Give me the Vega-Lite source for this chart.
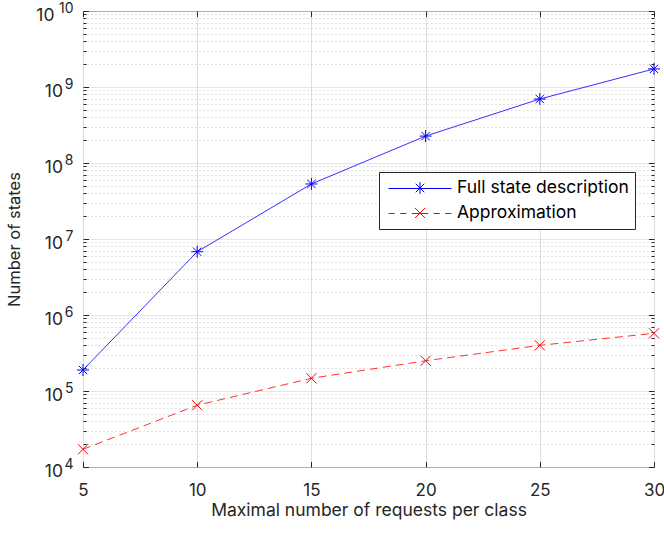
{
  "$schema": "https://vega.github.io/schema/vega-lite/v6.json",
  "width": 571,
  "height": 456,
  "autosize": {"type": "none"},
  "padding": {"left": 83, "top": 11, "right": 10, "bottom": 66},
  "background": "white",
  "config": {
    "view": {"stroke": "#262626", "strokeWidth": 1},
    "font": "Inter",
    "axis": {
      "labelFont": "Inter",
      "titleFont": "Inter",
      "labelColor": "#262626",
      "titleColor": "#262626",
      "titleFontWeight": "normal",
      "labelFlush": false,
      "labelOverlap": false,
      "labelBound": false,
      "domain": false,
      "tickColor": "#262626",
      "tickWidth": 1
    }
  },
  "data": {
    "values": [
      {"n": 5, "states": 189000, "series": "Full state description"},
      {"n": 10, "states": 6800000, "series": "Full state description"},
      {"n": 15, "states": 53000000, "series": "Full state description"},
      {"n": 20, "states": 226000000, "series": "Full state description"},
      {"n": 25, "states": 695000000, "series": "Full state description"},
      {"n": 30, "states": 1730000000, "series": "Full state description"},
      {"n": 5, "states": 17100, "series": "Approximation"},
      {"n": 10, "states": 65000, "series": "Approximation"},
      {"n": 15, "states": 147000, "series": "Approximation"},
      {"n": 20, "states": 250000, "series": "Approximation"},
      {"n": 25, "states": 399000, "series": "Approximation"},
      {"n": 30, "states": 574000, "series": "Approximation"}
    ]
  },
  "layer": [
    {
      "transform": [{"filter": "datum.series === 'Full state description'"}],
      "mark": {"type": "line", "strokeWidth": 1, "opacity": 0.8},
      "encoding": {
        "x": {
          "field": "n", "type": "quantitative",
          "scale": {"domain": [5, 30], "nice": false, "zero": false},
          "axis": {
            "values": [5, 10, 15, 20, 25, 30],
            "grid": true, "gridColor": "#dedede", "gridWidth": 1,
            "ticks": false,
            "labelFontSize": 17, "labelPadding": 15,
            "title": "Maximal number of requests per class",
            "titleFontSize": 17.5, "titlePadding": 3
          }
        },
        "y": {
          "field": "states", "type": "quantitative",
          "scale": {"type": "log", "domain": [10000, 10000000000], "nice": false},
          "axis": {
            "values": [10000,20000,30000,40000,50000,60000,70000,80000,90000,
                       100000,200000,300000,400000,500000,600000,700000,800000,900000,
                       1000000,2000000,3000000,4000000,5000000,6000000,7000000,8000000,9000000,
                       1e7,2e7,3e7,4e7,5e7,6e7,7e7,8e7,9e7,
                       1e8,2e8,3e8,4e8,5e8,6e8,7e8,8e8,9e8,
                       1e9,2e9,3e9,4e9,5e9,6e9,7e9,8e9,9e9,1e10],
            "grid": true,
            "gridColor": {"condition": {"test": "abs(log(datum.value)/LN10 - round(log(datum.value)/LN10)) < 0.001", "value": "#dcdcdc"}, "value": "#c0c0c0"},
            "gridDash": {"condition": {"test": "abs(log(datum.value)/LN10 - round(log(datum.value)/LN10)) < 0.001", "value": [1, 0]}, "value": [1, 3]},
            "ticks": false,
            "labelExpr": "abs(log(datum.value)/LN10 - round(log(datum.value)/LN10)) < 0.001 ? '10' : ''",
            "labelFontSize": 17.5,
            "labelBaseline": "middle",
            "labelOffset": 4,
            "labelPadding": {"condition": {"test": "datum.value > 5e9", "value": 29}, "value": 20.5},
            "title": "Number of states",
            "titleFontSize": 16.5,
            "titlePadding": 13
          }
        },
        "color": {
          "field": "series", "type": "nominal",
          "scale": {"domain": ["Full state description", "Approximation"], "range": ["#0000ff", "#ff0000"]},
          "legend": {
            "orient": "none",
            "legendX": 296,
            "legendY": 161,
            "title": null,
            "direction": "vertical",
            "fillColor": "white",
            "strokeColor": "#262626",
            "padding": 6,
            "labelFont": "Inter",
            "labelFontSize": 17.5,
            "labelColor": "#000000",
            "labelOffset": 5,
            "labelLimit": 400,
            "symbolOffset": 3,
            "clipHeight": 20,
            "rowPadding": 5,
            "symbolSize": 3969,
            "symbolStrokeWidth": 1,
            "symbolOpacity": 1,
            "symbolFillColor": "transparent",
            "symbolType": "M-1,0.016L1,0.016M0,-0.19L0,0.19M-0.135,-0.135L0.135,0.135M-0.135,0.135L0.135,-0.135"
          }
        }
      }
    },
    {
      "transform": [{"filter": "datum.series === 'Approximation'"}],
      "mark": {"type": "line", "strokeWidth": 1, "opacity": 0.8, "color": "#ff0000", "strokeDash": [8, 5]},
      "encoding": {
        "x": {"field": "n", "type": "quantitative", "axis": null},
        "y": {"field": "states", "type": "quantitative", "axis": null}
      }
    },
    {
      "transform": [{"filter": "datum.series === 'Full state description'"}],
      "mark": {"type": "point", "filled": false, "strokeWidth": 1, "opacity": 1, "size": 144, "color": "#0000ff",
               "shape": "M0,-1L0,1M-1,0L1,0M-0.7,-0.7L0.7,0.7M-0.7,0.7L0.7,-0.7"},
      "encoding": {
        "x": {
          "field": "n", "type": "quantitative",
          "axis": {
            "orient": "top",
            "values": [5, 10, 15, 20, 25, 30],
            "grid": false, "labels": false, "ticks": true, "tickSize": -5.5,
            "title": null
          }
        },
        "y": {
          "field": "states", "type": "quantitative",
          "axis": {
            "orient": "left",
            "values": [10000, 100000, 1000000, 1e7, 1e8, 1e9, 1e10],
            "grid": false, "ticks": false,
            "labelExpr": "format(round(log(datum.value)/LN10), 'd')",
            "labelFontSize": 14,
            "labelAlign": "right",
            "labelBaseline": "middle",
            "labelPadding": 10,
            "labelOffset": -3,
            "title": null
          }
        }
      }
    },
    {
      "transform": [{"filter": "datum.series === 'Approximation'"}],
      "mark": {"type": "point", "filled": false, "strokeWidth": 1, "opacity": 1, "size": 144, "color": "#ff0000",
               "shape": "M-0.85,-0.85L0.85,0.85M-0.85,0.85L0.85,-0.85"},
      "encoding": {
        "x": {"field": "n", "type": "quantitative", "axis": null},
        "y": {"field": "states", "type": "quantitative", "axis": null}
      }
    },
    {
      "transform": [{"filter": "datum.n > 1000"}],
      "mark": {"type": "point", "filled": false, "strokeWidth": 1, "opacity": 1},
      "encoding": {
        "x": {"field": "n", "type": "quantitative", "axis": null},
        "y": {"field": "states", "type": "quantitative", "axis": null},
        "color": {"field": "series", "type": "nominal"},
        "shape": {
          "field": "series", "type": "nominal",
          "scale": {"domain": ["Full state description", "Approximation"], "range": [
            "M-1,0.016L1,0.016M0,-0.19L0,0.19M-0.135,-0.135L0.135,0.135M-0.135,0.135L0.135,-0.135",
            "M-1,0.016L-0.8,0.016M-0.63,0.016L-0.43,0.016M-0.26,0.016L0.26,0.016M0.43,0.016L0.63,0.016M0.8,0.016L1,0.016M-0.16,-0.16L0.16,0.16M-0.16,0.16L0.16,-0.16"
          ]},
          "legend": null
        }
      }
    },
    {
      "mark": {"type": "point", "opacity": 0},
      "encoding": {
        "x": {
          "field": "n", "type": "quantitative",
          "axis": {
            "orient": "bottom",
            "values": [5, 10, 15, 20, 25, 30],
            "grid": false, "labels": false, "ticks": true, "tickSize": -5.5,
            "title": null
          }
        },
        "y": {
          "field": "states", "type": "quantitative",
          "axis": {
            "orient": "left",
            "values": [10000,20000,30000,40000,50000,60000,70000,80000,90000,
                       100000,200000,300000,400000,500000,600000,700000,800000,900000,
                       1000000,2000000,3000000,4000000,5000000,6000000,7000000,8000000,9000000,
                       1e7,2e7,3e7,4e7,5e7,6e7,7e7,8e7,9e7,
                       1e8,2e8,3e8,4e8,5e8,6e8,7e8,8e8,9e8,
                       1e9,2e9,3e9,4e9,5e9,6e9,7e9,8e9,9e9,1e10],
            "grid": false, "labels": false, "ticks": true,
            "tickSize": {"condition": {"test": "abs(log(datum.value)/LN10 - round(log(datum.value)/LN10)) < 0.001", "value": -5.5}, "value": -3},
            "title": null
          }
        }
      }
    },
    {
      "mark": {"type": "point", "opacity": 0},
      "encoding": {
        "x": {"field": "n", "type": "quantitative", "axis": null},
        "y": {
          "field": "states", "type": "quantitative",
          "axis": {
            "orient": "right",
            "values": [10000,20000,30000,40000,50000,60000,70000,80000,90000,
                       100000,200000,300000,400000,500000,600000,700000,800000,900000,
                       1000000,2000000,3000000,4000000,5000000,6000000,7000000,8000000,9000000,
                       1e7,2e7,3e7,4e7,5e7,6e7,7e7,8e7,9e7,
                       1e8,2e8,3e8,4e8,5e8,6e8,7e8,8e8,9e8,
                       1e9,2e9,3e9,4e9,5e9,6e9,7e9,8e9,9e9,1e10],
            "grid": false, "labels": false, "ticks": true,
            "tickSize": {"condition": {"test": "abs(log(datum.value)/LN10 - round(log(datum.value)/LN10)) < 0.001", "value": -5.5}, "value": -3},
            "title": null
          }
        }
      }
    }
  ],
  "resolve": {"axis": {"x": "independent", "y": "independent"}}
}
